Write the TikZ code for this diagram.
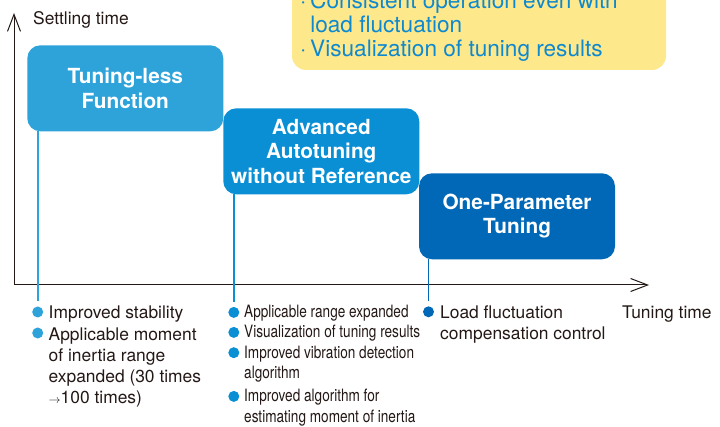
\documentclass[tikz,border=0pt]{standalone}
\usepackage{fontspec}
\setmainfont{TeX Gyre Heros}
\newfontfamily\condensed[FakeStretch=0.8]{TeX Gyre Heros}
\usetikzlibrary{positioning,arrows.meta}
\definecolor{tlblue}{HTML}{2EA3DA}
\definecolor{aablue}{HTML}{0A8FD5}
\definecolor{opblue}{HTML}{0068B6}
\definecolor{memoyellow}{HTML}{FDE98C}
\definecolor{memotext}{HTML}{0E88CF}
\definecolor{ink}{HTML}{231815}

\begin{document}
\begin{tikzpicture}[x=1pt,y=-1pt,func/.style={fill=#1,rounded corners=13pt,minimum width=196pt,minimum height=86pt,inner sep=0pt,align=center,text=white,font=\fontsize{20.8}{24.5}\selectfont\bfseries},dot/.style={circle,fill=#1,inner sep=0pt,minimum size=11pt},item/.style={anchor=base west,align=left,inner sep=0pt,text=ink,font=\fontsize{17.4}{21}\selectfont},narrow/.style={item,font=\condensed\fontsize{17}{20.5}\selectfont},stem/.style={draw=#1,line width=1.6pt,shorten >=5pt},axis/.style={-{Straight Barb[length=17pt,width=13pt]},line width=1pt,draw=ink}]
\path[use as bounding box,clip] (0,0) rectangle (720,427);
% note box, cut by the top edge (texts placed by their last line)
\node[fill=memoyellow,rounded corners=14pt,minimum width=374pt,minimum height=100pt] (memo) at (479,20) {};
\node[item,text=memotext,font=\fontsize{22.6}{24}\selectfont] (memotxt) at (300,56.3) {·\,Consistent operation even with\\\phantom{·\,}load fluctuation\\·\,Visualization of tuning results};
% axes
\coordinate (o) at (14,285);\coordinate (ytip) at (14,13);\coordinate (xtip) at (649,285);
\draw[axis] (o)--(ytip);\draw[axis] (o)--(xtip);
\node[item] (settling) at (33,24.5) {Settling time};
\node[item] (tuning) at (622,318.3) {Tuning time};
% functions
\node[func=tlblue] (tl) at (125.3,88.3) {Tuning-less\\Function};
\node[func=aablue] (aa) at (321.3,151.3) {Advanced\\Autotuning\\without Reference};
\node[func=opblue] (op) at (517,216.3) {One-Parameter\\Tuning};
% bullets
\node[dot=tlblue] (d11) at (37.7,312) {};\node[dot=tlblue] (d12) at (37.7,333) {};
\node[dot=aablue] (d21) at (233.8,312.4) {};\node[dot=aablue] (d22) at (233.8,332.4) {};
\node[dot=aablue] (d23) at (233.8,352.7) {};\node[dot=aablue] (d24) at (233.8,396.4) {};
\node[dot=opblue] (d31) at (428.5,311.8) {};
\draw[stem=tlblue] (tl.south -| d11)--(d11);\draw[stem=aablue] (aa.south -| d21)--(d21);\draw[stem=opblue] (op.south -| d31)--(d31);
\node[item] (i11) at (48.5,319) {Improved stability};
\node[item] (i12) at (48.5,403) {Applicable moment\\of inertia range\\expanded (30 times\\$\scriptstyle\rightarrow$100 times)};
\node[narrow] (i21) at (244,317.7) {Applicable range expanded};
\node[narrow] (i22) at (244,337.7) {Visualization of tuning results};
\node[narrow] (i23) at (244,378.7) {Improved vibration detection\\algorithm};
\node[narrow] (i24) at (244,422) {Improved algorithm for\\estimating moment of inertia};
\node[item] (i31) at (440,339.3) {Load fluctuation\\compensation control};
\end{tikzpicture}
\end{document}
